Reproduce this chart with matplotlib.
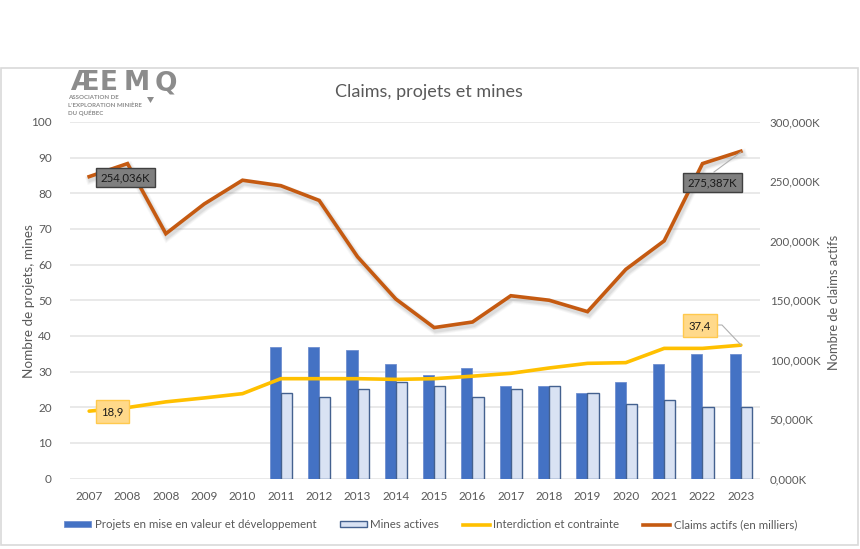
import matplotlib
matplotlib.use('Agg')
import matplotlib.pyplot as plt
import matplotlib.patheffects as pe
from matplotlib.patches import Rectangle, Polygon
from matplotlib.lines import Line2D
from matplotlib.ticker import FuncFormatter
import numpy as np

plt.rcParams['font.family'] = ['Lato', 'DejaVu Sans']

years = ['2007', '2008', '2008', '2009', '2010', '2011', '2012', '2013', '2014',
         '2015', '2016', '2017', '2018', '2019', '2020', '2021', '2022', '2023']
projets = [None, None, None, None, None, 37, 37, 36, 32, 29, 31, 26, 26, 24, 27, 32, 35, 35]
mines = [None, None, None, None, None, 24, 23, 25, 27, 26, 23, 25, 26, 24, 21, 22, 20, 20]
interdiction = [18.9, 19.9, 21.5, 22.6, 23.8, 28.0, 28.0, 28.0, 27.8, 28.0, 28.7, 29.5,
                31.0, 32.3, 32.5, 36.5, 36.5, 37.4]
claims = [254036, 265000, 206000, 231000, 251000, 246400, 234000, 186600, 151000, 127000,
          131700, 153800, 150000, 140400, 176000, 200000, 265000, 275387]

W, H = 860, 549
GREY = '#595959'
BLUE = '#4472C4'
LIGHT = '#D9E2F3'
DARK_EDGE = '#44618F'
YELLOW = '#FFC000'
ORANGE = '#C55A11'
LOGO = '#8C8C8C'

fig = plt.figure(figsize=(W / 100, H / 100), dpi=100, facecolor='white')


def px(x, y):
    # figure fraction from picture pixels
    return x / W, 1 - y / H


# chart frame, behind the axes
fig.add_artist(Rectangle(px(1, 545), 857 / W, 477 / H, transform=fig.transFigure,
                         facecolor='white', edgecolor='#D9D9D9', linewidth=1.2, zorder=-1))

left, bottom = px(70, 478.5)
ax = fig.add_axes([left, bottom, 690 / W, 356.5 / H])
ax.patch.set_alpha(0)
x = np.arange(len(years))
bar_w = 0.29

for i in x:
    if projets[i] is None:
        continue
    ax.bar(i - bar_w / 2, projets[i], bar_w, color=BLUE, edgecolor='#6F8FD0', linewidth=0.6, zorder=2)
    ax.bar(i + bar_w / 2, mines[i], bar_w, color=LIGHT, edgecolor=DARK_EDGE, linewidth=1.0, zorder=2)

ax.plot(x, interdiction, color=YELLOW, lw=2.6, zorder=3, solid_capstyle='round',
        solid_joinstyle='round')

ax.set_xlim(-0.5, len(years) - 0.5)
ax.set_ylim(0, 100)
ax.set_yticks(range(0, 101, 10))
ax.set_xticks(x)
ax.set_xticklabels(years)
ax.grid(axis='y', color='#E7E7E7', lw=1.3, zorder=0)
ax.set_axisbelow(True)
ax.tick_params(length=0, labelcolor=GREY, labelsize=8.5)
ax.tick_params(axis='x', pad=9)
ax.tick_params(axis='y', pad=13)
for s in ax.spines.values():
    s.set_visible(False)

# soft shadow: a few wide, faint strokes under the line
soft_shadow = [pe.Stroke(offset=(1, -2), linewidth=w, foreground='#606060', alpha=a)
               for w, a in ((6.5, 0.05), (5, 0.07), (3.5, 0.10))] + [pe.Normal()]

ax2 = ax.twinx()
ax2.patch.set_alpha(0)
ax2.plot(x, claims, color=ORANGE, lw=2.6, zorder=4, solid_joinstyle='miter', path_effects=soft_shadow)
ax2.set_ylim(0, 300000)
ax2.set_yticks(range(0, 300001, 50000))
ax2.yaxis.set_major_formatter(FuncFormatter(lambda v, p: f'{int(v / 1000)},000K'))
ax2.tick_params(length=0, labelcolor=GREY, labelsize=8.3, pad=7)
for s in ax2.spines.values():
    s.set_visible(False)

fig.text(*px(29, 301), 'Nombre de projets, mines', rotation=90, color=GREY, fontsize=9.7,
         ha='center', va='center')
fig.text(*px(834, 302), 'Nombre de claims actifs', rotation=90, color=GREY, fontsize=9.3,
         ha='center', va='center')
fig.text(*px(429, 92), 'Claims, projets et mines', color=GREY, fontsize=13, ha='center', va='center')

# data labels
grey_box = dict(boxstyle='square,pad=0.38', facecolor='#7F7F7F', edgecolor='#404040', linewidth=1)
yellow_box = dict(boxstyle='square,pad=0.5', facecolor='#FFD98A', edgecolor='#FFC94D', linewidth=1)
fig.text(*px(125.5, 177.5), f'{claims[0]:,}K', fontsize=8.2, color='#1a1a1a', ha='center', va='center',
         bbox=grey_box, zorder=10)
fig.text(*px(712.5, 182.5), f'{claims[-1]:,}K', fontsize=8.2, color='#1a1a1a', ha='center', va='center',
         bbox=grey_box, zorder=10)
fig.text(*px(112.5, 411.5), str(interdiction[0]).replace('.', ','), fontsize=8.2, color='#1a1a1a',
         ha='center', va='center', bbox=yellow_box, zorder=10)
fig.text(*px(700, 325.5), str(interdiction[-1]).replace('.', ','), fontsize=8.2, color='#1a1a1a',
         ha='center', va='center', bbox=yellow_box, zorder=10)

# leader lines
for pts in ([(714, 172), (741, 152)], [(716, 325), (722, 325), (741, 345)]):
    xs, ys = zip(*[px(*p) for p in pts])
    fig.add_artist(Line2D(xs, ys, color='#B0B0B0', lw=0.8, transform=fig.transFigure))

# logo, letters set one by one to spread them over the logo's width
for lx, letter in zip((70, 100, 124, 155), ('Æ', 'E', 'M', 'Q')):
    fig.text(*px(lx, 83.5), letter, color=LOGO, fontsize=19, fontweight='bold', family='DejaVu Sans',
             ha='left', va='center')
fig.add_artist(Polygon([px(147, 97), px(154, 97), px(150.5, 103)], transform=fig.transFigure,
                       facecolor=LOGO, edgecolor='none'))
for yy, line in zip((97.5, 105, 113), ('ASSOCIATION DE', "L'EXPLORATION MINIÈRE", 'DU QUÉBEC')):
    fig.text(*px(68, yy), line, color=LOGO, fontsize=4.4, fontweight='bold', ha='left', va='center')

# legend
handles = [Rectangle((0, 0), 1, 1, facecolor=BLUE, edgecolor='#6F8FD0', linewidth=0.6),
           Rectangle((0, 0), 1, 1, facecolor=LIGHT, edgecolor=DARK_EDGE, linewidth=1.0),
           Line2D([], [], color=YELLOW, lw=2.6),
           Line2D([], [], color=ORANGE, lw=2.6)]
names = ['Projets en mise en valeur et développement', 'Mines actives',
         'Interdiction et contrainte', 'Claims actifs (en milliers)']
fig.legend(handles, names, loc='center', bbox_to_anchor=px(430.5, 525), ncol=4, frameon=False,
           fontsize=8.3, labelcolor=GREY, handlelength=2.35, handleheight=0.4, handletextpad=0.3,
           columnspacing=2.05, borderpad=0)

fig.savefig('out.png', dpi=100)
